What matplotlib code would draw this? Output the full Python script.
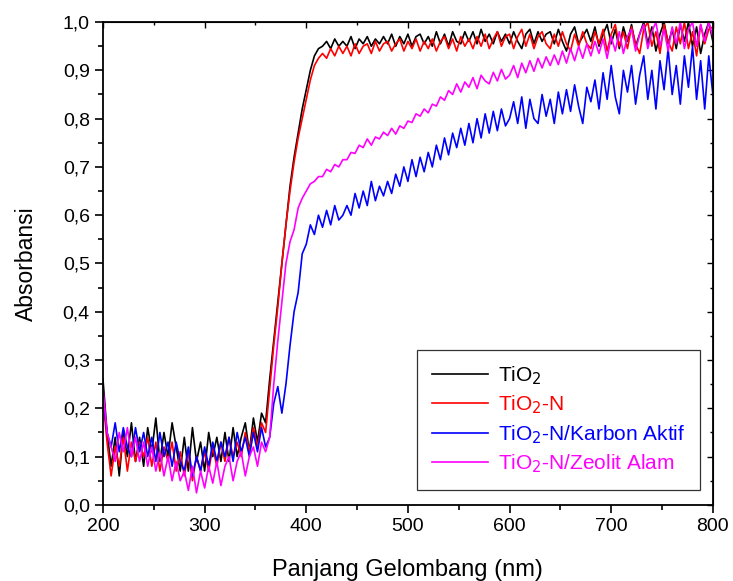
import numpy as np
import matplotlib
matplotlib.use("Agg")
import matplotlib.pyplot as plt
from matplotlib.ticker import MultipleLocator, FuncFormatter, NullFormatter

plt.rcParams['font.family'] = ['Liberation Sans', 'DejaVu Sans']

# wavelength grid (nm), 4 nm sampling
wl = np.arange(200, 801, 4)

tio2 = [0.26, 0.15, 0.08, 0.14, 0.06, 0.15, 0.10, 0.17, 0.09, 0.14,
        0.08, 0.16, 0.11, 0.18, 0.09, 0.15, 0.10, 0.17, 0.12, 0.07,
        0.14, 0.07, 0.16, 0.09, 0.13, 0.07, 0.15, 0.10, 0.14, 0.09,
        0.15, 0.09, 0.16, 0.10, 0.14, 0.17, 0.11, 0.18, 0.13, 0.19,
        0.17, 0.26, 0.34, 0.42, 0.50, 0.58, 0.66, 0.72, 0.77, 0.82,
        0.86, 0.90, 0.93, 0.945, 0.95, 0.96, 0.945, 0.965, 0.95, 0.96,
        0.95, 0.97, 0.945, 0.965, 0.955, 0.97, 0.95, 0.965, 0.955, 0.97,
        0.955, 0.975, 0.95, 0.97, 0.955, 0.975, 0.95, 0.97, 0.975, 0.955,
        0.97, 0.95, 0.98, 0.955, 0.975, 0.95, 0.98, 0.96, 0.955, 0.98,
        0.96, 0.98, 0.955, 0.985, 0.96, 0.975, 0.955, 0.98, 0.96, 0.975,
        0.955, 0.98, 0.96, 0.945, 0.975, 0.985, 0.955, 0.98, 0.96, 0.975,
        0.98, 0.955, 0.985, 0.96, 0.94, 0.975, 0.99, 0.955, 0.97, 0.985,
        0.96, 0.99, 0.95, 0.975, 0.995, 0.955, 0.985, 0.945, 0.99, 0.96,
        0.995, 0.95, 0.975, 1.0, 0.955, 0.99, 0.94, 0.975, 1.0, 0.955,
        0.985, 0.945, 0.995, 0.96, 1.0, 0.95, 0.99, 0.935, 0.975, 1.0,
        0.96]

tio2_n = [0.22, 0.13, 0.06, 0.12, 0.08, 0.14, 0.07, 0.13, 0.09, 0.13,
          0.10, 0.14, 0.08, 0.13, 0.07, 0.12, 0.09, 0.13, 0.07, 0.11,
          0.06, 0.11, 0.05, 0.10, 0.07, 0.11, 0.07, 0.12, 0.08, 0.13,
          0.09, 0.14, 0.10, 0.13, 0.10, 0.15, 0.11, 0.16, 0.12, 0.17,
          0.15, 0.24, 0.33, 0.41, 0.50, 0.58, 0.65, 0.71, 0.76, 0.80,
          0.84, 0.88, 0.91, 0.925, 0.935, 0.925, 0.945, 0.93, 0.95, 0.935,
          0.95, 0.93, 0.955, 0.935, 0.95, 0.955, 0.935, 0.96, 0.94, 0.955,
          0.96, 0.94, 0.955, 0.965, 0.94, 0.96, 0.945, 0.965, 0.94, 0.96,
          0.945, 0.965, 0.94, 0.96, 0.97, 0.945, 0.965, 0.94, 0.97, 0.95,
          0.965, 0.945, 0.97, 0.95, 0.975, 0.945, 0.965, 0.98, 0.95, 0.97,
          0.975, 0.945, 0.97, 0.985, 0.95, 0.975, 0.945, 0.97, 0.98, 0.955,
          0.945, 0.975, 0.95, 0.98, 0.955, 0.94, 0.975, 0.95, 0.98, 0.955,
          0.945, 0.98, 0.955, 0.985, 0.94, 0.975, 0.995, 0.95, 0.98, 0.945,
          0.99, 0.955, 0.935, 0.985, 1.0, 0.95, 0.98, 0.935, 0.995, 0.96,
          0.94, 0.99, 0.955, 1.0, 0.945, 0.98, 0.93, 0.995, 0.955, 0.985,
          0.99]

tio2_n_karbon = [0.22, 0.15, 0.12, 0.17, 0.11, 0.16, 0.12, 0.10, 0.16, 0.11,
                 0.15, 0.10, 0.14, 0.09, 0.15, 0.10, 0.13, 0.08, 0.13, 0.09,
                 0.07, 0.12, 0.06, 0.10, 0.07, 0.12, 0.08, 0.13, 0.09, 0.13,
                 0.10, 0.14, 0.09, 0.15, 0.11, 0.14, 0.10, 0.15, 0.11, 0.16,
                 0.12, 0.14, 0.21, 0.245, 0.19, 0.25, 0.33, 0.40, 0.44, 0.52,
                 0.54, 0.58, 0.56, 0.60, 0.575, 0.61, 0.58, 0.62, 0.59, 0.60,
                 0.62, 0.60, 0.645, 0.615, 0.65, 0.62, 0.67, 0.63, 0.66, 0.64,
                 0.67, 0.645, 0.685, 0.66, 0.70, 0.67, 0.715, 0.68, 0.72, 0.69,
                 0.73, 0.70, 0.745, 0.715, 0.76, 0.725, 0.77, 0.74, 0.78, 0.745,
                 0.79, 0.75, 0.80, 0.76, 0.81, 0.77, 0.815, 0.775, 0.82, 0.785,
                 0.80, 0.835, 0.79, 0.845, 0.78, 0.84, 0.80, 0.79, 0.85, 0.805,
                 0.84, 0.79, 0.855, 0.81, 0.86, 0.815, 0.87, 0.825, 0.79, 0.865,
                 0.835, 0.88, 0.82, 0.895, 0.84, 0.91, 0.845, 0.81, 0.90, 0.855,
                 0.91, 0.83, 0.89, 0.93, 0.84, 0.90, 0.82, 0.92, 0.86, 0.945,
                 0.85, 0.91, 0.83, 0.93, 0.865, 0.95, 0.84, 0.92, 0.82, 0.93,
                 0.85]

tio2_n_zeolit = [0.24, 0.15, 0.12, 0.09, 0.15, 0.11, 0.16, 0.10, 0.14, 0.09,
                 0.13, 0.08, 0.12, 0.07, 0.11, 0.06, 0.10, 0.05, 0.09, 0.05,
                 0.07, 0.03, 0.08, 0.025, 0.07, 0.035, 0.08, 0.045, 0.09, 0.04,
                 0.08, 0.10, 0.05, 0.09, 0.11, 0.06, 0.10, 0.12, 0.08, 0.13,
                 0.11, 0.14, 0.25, 0.34, 0.42, 0.50, 0.545, 0.57, 0.615, 0.635,
                 0.65, 0.665, 0.67, 0.68, 0.68, 0.695, 0.69, 0.705, 0.70, 0.715,
                 0.715, 0.73, 0.728, 0.745, 0.74, 0.758, 0.745, 0.762, 0.758, 0.772,
                 0.765, 0.78, 0.768, 0.785, 0.78, 0.795, 0.792, 0.81, 0.805, 0.82,
                 0.812, 0.83, 0.826, 0.845, 0.838, 0.858, 0.85, 0.872, 0.855, 0.876,
                 0.865, 0.885, 0.862, 0.89, 0.878, 0.872, 0.896, 0.878, 0.902, 0.882,
                 0.89, 0.91, 0.885, 0.915, 0.895, 0.92, 0.898, 0.925, 0.905, 0.928,
                 0.91, 0.932, 0.912, 0.94, 0.915, 0.945, 0.92, 0.95, 0.925, 0.955,
                 0.93, 0.96, 0.935, 0.965, 0.925, 0.97, 0.94, 0.98, 0.935, 0.97,
                 0.985, 0.94, 0.975, 0.995, 0.945, 0.98, 1.0, 0.95, 0.985, 0.94,
                 0.99, 0.955, 1.0, 0.945, 0.985, 1.0, 0.95, 0.995, 0.96, 1.0,
                 0.97]

labels = ["TiO$_2$", "TiO$_2$-N", "TiO$_2$-N/Karbon Aktif", "TiO$_2$-N/Zeolit Alam"]
colors = ["black", "red", "blue", "magenta"]
series = [tio2, tio2_n, tio2_n_karbon, tio2_n_zeolit]

fig = plt.figure(figsize=(7.33, 5.81), dpi=100)
ax = fig.add_axes([0.1405, 0.131, 0.832, 0.831])

for ys, c, lab in zip(series, colors, labels):
    ax.plot(wl, ys, color=c, lw=1.2, label=lab)

ax.set_xlim(200, 800)
ax.set_ylim(0.0, 1.0)
ax.xaxis.set_major_locator(MultipleLocator(100))
ax.xaxis.set_minor_locator(MultipleLocator(50))
ax.yaxis.set_major_locator(MultipleLocator(0.1))
ax.yaxis.set_minor_locator(MultipleLocator(0.05))
ax.yaxis.set_major_formatter(FuncFormatter(lambda v, p: f"{v:.1f}".replace(".", ",")))

ax.tick_params(which='both', direction='out', labelsize=14, width=1.2)
ax.tick_params(which='major', length=6)
ax.tick_params(which='minor', length=3.5)
for sp in ax.spines.values():
    sp.set_linewidth(1.3)

# inward ticks on top and right, like the original
top = ax.secondary_xaxis('top')
top.xaxis.set_major_locator(MultipleLocator(100))
top.xaxis.set_minor_locator(MultipleLocator(50))
top.xaxis.set_major_formatter(NullFormatter())
top.tick_params(which='both', direction='in', width=1.0)
top.tick_params(which='major', length=4)
top.tick_params(which='minor', length=2.5)
right = ax.secondary_yaxis('right')
right.yaxis.set_major_locator(MultipleLocator(0.1))
right.yaxis.set_minor_locator(MultipleLocator(0.05))
right.yaxis.set_major_formatter(NullFormatter())
right.tick_params(which='both', direction='in', width=1.0)
right.tick_params(which='major', length=4)
right.tick_params(which='minor', length=2.5)

ax.set_xlabel("Panjang Gelombang (nm)", fontsize=17, labelpad=17)
ax.set_ylabel("Absorbansi", fontsize=16.5, labelpad=18)

leg = ax.legend(loc='lower right', bbox_to_anchor=(0.979, 0.031), fontsize=15,
                labelcolor='linecolor', frameon=True, fancybox=False,
                edgecolor='black', handlelength=2.7, handletextpad=0.5,
                borderpad=0.7, labelspacing=0.33, borderaxespad=0)
leg.get_frame().set_linewidth(0.9)

fig.savefig("out.png", dpi=100)
